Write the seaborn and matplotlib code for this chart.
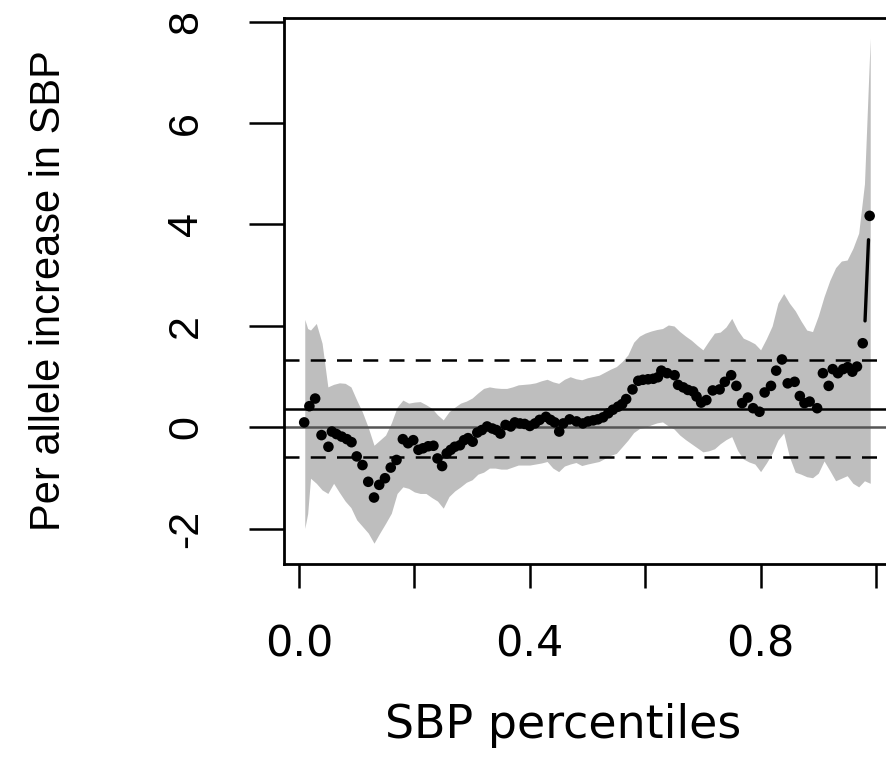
import numpy as np
import pandas as pd
import seaborn as sns
import matplotlib.pyplot as plt

# quantile estimates (per allele effect)
pct = [0.009, 0.018, 0.028, 0.039, 0.051, 0.057, 0.065, 0.074, 0.083, 0.091,
       0.100, 0.110, 0.120, 0.130, 0.139, 0.149, 0.159, 0.169, 0.180, 0.189,
       0.198, 0.207, 0.215, 0.224, 0.233, 0.240, 0.248, 0.256, 0.263, 0.270,
       0.279, 0.286, 0.293, 0.301, 0.309, 0.317, 0.326, 0.335, 0.342, 0.349,
       0.358, 0.367, 0.374, 0.383, 0.391, 0.400, 0.409, 0.417, 0.428, 0.436,
       0.443, 0.451, 0.458, 0.469, 0.481,
       0.492, 0.501, 0.510, 0.518, 0.527, 0.536, 0.544, 0.553, 0.560, 0.567,
       0.578, 0.588, 0.596, 0.605, 0.614, 0.622, 0.628, 0.638, 0.651, 0.657,
       0.666, 0.674, 0.683, 0.689, 0.697, 0.706, 0.717, 0.729, 0.738, 0.749,
       0.758, 0.768, 0.778, 0.787, 0.798, 0.807, 0.818, 0.827, 0.837, 0.847,
       0.859, 0.868, 0.876, 0.885, 0.898, 0.908, 0.918, 0.925, 0.934, 0.943,
       0.951, 0.959, 0.967, 0.977, 0.989]
beta = [0.10, 0.42, 0.57, -0.15, -0.38, -0.08, -0.13, -0.18, -0.23, -0.29,
        -0.57, -0.74, -1.07, -1.38, -1.13, -1.00, -0.79, -0.64, -0.23, -0.31,
        -0.25, -0.44, -0.41, -0.37, -0.36, -0.61, -0.76, -0.51, -0.44, -0.38,
        -0.35, -0.25, -0.21, -0.28, -0.10, -0.05, 0.02, -0.02, -0.05, -0.12,
        0.05, 0.02, 0.10, 0.08, 0.07, 0.03, 0.08, 0.15, 0.21, 0.15,
        0.10, -0.08, 0.08, 0.16, 0.12,
        0.08, 0.12, 0.14, 0.16, 0.20, 0.28, 0.35, 0.41, 0.46, 0.56,
        0.75, 0.92, 0.94, 0.95, 0.96, 0.99, 1.12, 1.07, 1.03, 0.84,
        0.79, 0.74, 0.71, 0.61, 0.49, 0.54, 0.73, 0.75, 0.90, 1.03,
        0.82, 0.48, 0.59, 0.38, 0.31, 0.69, 0.82, 1.12, 1.34, 0.87,
        0.90, 0.62, 0.48, 0.51, 0.38, 1.07, 0.82, 1.15, 1.07, 1.15,
        1.19, 1.10, 1.20, 1.66, 4.17]

# confidence band
band_x = [0.01, 0.015, 0.02, 0.03, 0.04, 0.05, 0.06, 0.07, 0.08, 0.09,
          0.10, 0.11, 0.12, 0.13, 0.14, 0.15, 0.16, 0.17, 0.18, 0.19,
          0.20, 0.21, 0.22, 0.23, 0.24, 0.25, 0.26, 0.27, 0.28, 0.29,
          0.30, 0.31, 0.32, 0.33, 0.34, 0.35, 0.36, 0.37, 0.38, 0.39,
          0.40, 0.41, 0.42, 0.43, 0.44, 0.45, 0.46, 0.47, 0.48, 0.49,
          0.50, 0.52, 0.54, 0.55, 0.56, 0.57, 0.58, 0.59, 0.60, 0.61,
          0.62, 0.63, 0.64, 0.65, 0.66, 0.67, 0.68, 0.69, 0.70, 0.71,
          0.72, 0.73, 0.74, 0.75, 0.76, 0.77, 0.78, 0.79, 0.80, 0.81,
          0.82, 0.83, 0.84, 0.85, 0.86, 0.87, 0.88, 0.89, 0.90, 0.91,
          0.92, 0.93, 0.94, 0.95, 0.96, 0.97, 0.98, 0.99]
band_hi = [2.13, 1.95, 1.92, 2.05, 1.66, 0.80, 0.85, 0.88, 0.87, 0.80,
           0.54, 0.30, 0.00, -0.35, -0.25, -0.15, 0.09, 0.40, 0.54, 0.48,
           0.50, 0.51, 0.45, 0.38, 0.25, 0.15, 0.31, 0.40, 0.48, 0.52,
           0.58, 0.68, 0.77, 0.80, 0.78, 0.77, 0.77, 0.80, 0.84, 0.85,
           0.86, 0.88, 0.92, 0.95, 0.90, 0.87, 0.95, 1.00, 0.96, 0.94,
           0.98, 1.03, 1.15, 1.20, 1.30, 1.43, 1.68, 1.80, 1.86, 1.90,
           1.93, 1.95, 2.02, 2.00, 1.89, 1.80, 1.72, 1.62, 1.53, 1.70,
           1.86, 1.88, 1.98, 2.15, 1.92, 1.76, 1.71, 1.65, 1.53, 1.75,
           2.00, 2.45, 2.64, 2.45, 2.30, 2.10, 1.92, 1.89, 2.20, 2.58,
           2.90, 3.15, 3.28, 3.30, 3.53, 3.83, 4.80, 7.67]
band_lo = [-1.99, -1.70, -1.00, -1.10, -1.23, -1.30, -1.10, -1.28, -1.45, -1.58,
           -1.82, -1.95, -2.08, -2.28, -2.08, -1.89, -1.69, -1.30, -1.17, -1.20,
           -1.27, -1.30, -1.30, -1.38, -1.45, -1.59, -1.36, -1.25, -1.17, -1.08,
           -1.03, -0.92, -0.88, -0.80, -0.80, -0.82, -0.82, -0.78, -0.74, -0.74,
           -0.74, -0.72, -0.70, -0.67, -0.80, -0.87, -0.76, -0.72, -0.69, -0.75,
           -0.72, -0.67, -0.55, -0.51, -0.38, -0.25, -0.10, -0.02, 0.00, 0.05,
           0.09, 0.11, 0.03, -0.03, -0.15, -0.24, -0.32, -0.40, -0.48, -0.46,
           -0.42, -0.32, -0.24, -0.18, -0.45, -0.62, -0.68, -0.72, -0.87, -0.70,
           -0.51, -0.25, -0.11, -0.58, -0.88, -0.92, -0.97, -0.99, -0.90, -0.66,
           -0.85, -1.05, -1.00, -0.95, -1.10, -1.17, -1.05, -1.10]

# jump between the last two estimates
tail_x = [0.981, 0.987]
tail_y = [2.10, 3.70]

# overall (mean) effect and its CI
ref_mean = 0.37
ref_lo, ref_hi = -0.59, 1.33

x_ticks = [0.0, 0.2, 0.4, 0.6, 0.8, 1.0]
x_labels = ["0.0", "", "0.4", "", "0.8", ""]
y_ticks = [-2, 0, 2, 4, 6, 8]

sns.set_style("ticks")
plt.rcParams['font.family'] = ['Liberation Sans', 'DejaVu Sans']
plt.rcParams['text.color'] = 'black'
plt.rcParams['axes.labelcolor'] = 'black'

fig = plt.figure(figsize=(8.86, 7.68), dpi=100)
ax = fig.add_axes([284 / 886, 1 - 564 / 768, 616 / 886, 546 / 768])

ax.fill_between(band_x, band_lo, band_hi, color="#bebebe", lw=0, zorder=1)
ax.axhline(0, color="#555555", lw=1.8, zorder=2)
ax.axhline(ref_mean, color="black", lw=1.8, zorder=2)
for v in (ref_lo, ref_hi):
    ax.axhline(v, color="black", lw=1.8, ls=(0, (6, 4.5)), zorder=2)
sns.lineplot(x=tail_x, y=tail_y, color="black", lw=2.4, ax=ax, zorder=3)
sns.scatterplot(x=pct, y=beta, color="black", s=58, edgecolor="none",
                marker="o", ax=ax, zorder=4)

ax.set_xlim(-0.026, 1.0416)
ax.set_ylim(-2.69, 8.069)
ax.set_xticks(x_ticks)
ax.set_xticklabels(x_labels, fontsize=31, family=["DejaVu Sans"])
ax.set_yticks(y_ticks)
ax.set_yticklabels([str(v) for v in y_ticks], fontsize=31, rotation=90, va="center")

ax.tick_params(axis="both", color="black", labelcolor="black")
ax.tick_params(axis="x", length=17, width=1.8, pad=26, direction="out")
ax.tick_params(axis="y", length=25, width=1.8, pad=31, direction="out")
for s in ax.spines.values():
    s.set_linewidth(2.0)
    s.set_color("black")

ax.set_xlabel("SBP percentiles", fontsize=33, family=["DejaVu Sans"])
ax.xaxis.set_label_coords(0.453, -0.255)
ax.set_ylabel("Per allele increase in SBP", fontsize=30)
ax.yaxis.set_label_coords(-0.349, 0.5)

fig.savefig("out.png", dpi=100)
